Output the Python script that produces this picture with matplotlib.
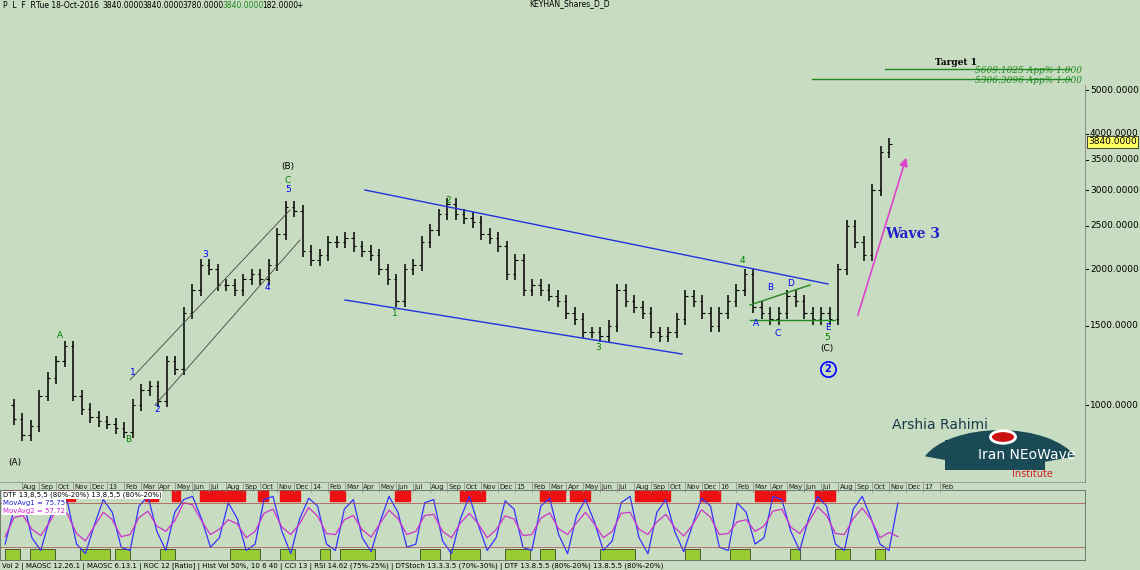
import matplotlib
matplotlib.use("Agg")
import matplotlib.pyplot as plt
import numpy as np
from matplotlib.patches import Circle, FancyArrowPatch, Rectangle, Wedge

W, H = 1140, 570
BG = "#c7dcc0"

# price (half-month steps starting Jul 2012)
closes = [1000, 930, 860, 900, 1050, 1150, 1250, 1350, 1050, 980, 940, 920, 910, 890, 870,
          1000, 1080, 1100, 1020, 1250, 1200, 1600, 1800, 2050, 2000, 1850, 1850, 1800, 1900,
          1950, 1900, 2050, 2400, 2750, 2700, 2200, 2100, 2150, 2300, 2300, 2350, 2250, 2200,
          2150, 2000, 1900, 1700, 2000, 2050, 2300, 2450, 2650, 2800, 2650, 2600, 2550, 2400,
          2350, 2250, 1950, 2100, 1800, 1850, 1800, 1750, 1700, 1600, 1550, 1450, 1450, 1420,
          1500, 1800, 1700, 1650, 1600, 1450, 1420, 1450, 1550, 1750, 1700, 1600, 1500, 1600,
          1700, 1800, 1950, 1650, 1600, 1550, 1600, 1750, 1700, 1600, 1550, 1600, 1550, 2000,
          2500, 2300, 2150, 3000, 3650, 3800]
osc_blue = [20, 75, 90, 30, 10, 60, 95, 85, 20, 5, 50, 90, 70, 15, 10, 80, 95, 40, 10, 70,
            90, 95, 60, 15, 30, 85, 60, 10, 20, 90, 95, 40, 5, 60, 92, 80, 20, 10, 75, 90, 30,
            8, 55, 95, 70, 15, 20, 85, 90, 25, 5, 60, 95, 50, 10, 30, 88, 75, 15, 10, 80, 92,
            35, 5, 65, 90, 55, 10, 25, 85, 95, 30, 5, 70, 90, 40, 8, 50, 92, 80, 15, 10, 85,
            70, 20, 30, 95, 90, 40, 10, 60, 95, 80, 20, 10, 75, 95, 60, 20, 10, 85]
red_boxes = [(5, 20), (60, 75), (145, 158), (172, 180), (200, 245), (258, 268), (280, 300),
             (330, 345), (395, 410), (460, 485), (540, 565), (570, 590), (635, 670), (700, 720),
             (755, 785), (815, 835)]
green_boxes = [(5, 20), (30, 55), (80, 110), (115, 130), (160, 175), (230, 260), (280, 295),
               (320, 330), (340, 375), (420, 440), (450, 480), (505, 530), (540, 555), (600, 635),
               (685, 700), (730, 750), (790, 800), (835, 850), (875, 885)]
price_ticks = [1000, 1500, 2000, 2500, 3000, 3500, 4000, 5000]
month_names = ["Jul", "Aug", "Sep", "Oct", "Nov", "Dec", "", "Feb", "Mar", "Apr", "May", "Jun"]
header = [("P  L  F  R", "black"), ("Tue 18-Oct-2016", "black"), ("3840.0000", "black"),
          ("3840.0000", "black"), ("3780.0000", "black"), ("3840.0000", "#228822"),
          ("182.0000", "black"), ("+", "black")]
header_x = [3, 36, 102, 142, 182, 222, 262, 296]

fig = plt.figure(figsize=(W / 100, H / 100), dpi=100, facecolor=BG)

def fx(px): return px / W
def fy(py): return 1 - py / H

ax = fig.add_axes([0, fy(482), fx(1085), fy(10) - fy(482)], facecolor=BG)
ax.set_yscale("log")
ax.set_ylim(675, 7525)
ax.set_xlim(-0.3, 63.5)
t = np.arange(len(closes)) * 0.5
for i in range(1, len(closes)):
    lo, hi = min(closes[i - 1], closes[i]), max(closes[i - 1], closes[i])
    ax.vlines(t[i], lo * 0.97, hi * 1.03, color="black", lw=1.1)
    ax.hlines(closes[i], t[i], t[i] + 0.15, color="black", lw=0.8)
    ax.hlines(closes[i - 1], t[i] - 0.15, t[i], color="black", lw=0.8)
for s in ax.spines.values():
    s.set_visible(False)
ax.set_xticks([]); ax.set_yticks([])
ax.yaxis.set_minor_locator(matplotlib.ticker.NullLocator())

def P(px, py):
    inv = ax.transData.inverted()
    return inv.transform((px, H - py))

def lab(px, py, s, c, size=7, ha="center", **kw):
    x, y = P(px, py)
    ax.text(x, y, s, color=c, fontsize=size, ha=ha, va="center", **kw)

def line(p1, p2, c, lw=1):
    a, b = P(*p1), P(*p2)
    ax.plot([a[0], b[0]], [a[1], b[1]], color=c, lw=lw)

fig.canvas.draw()
line((365, 190), (828, 284), "#2233dd")
line((345, 300), (682, 354), "#2233dd")
line((130, 380), (290, 210), "#444444", 0.6)
line((155, 405), (300, 240), "#444444", 0.6)
line((750, 320), (835, 320), "#228822")
line((750, 305), (810, 285), "#228822")
line((885, 69), (1070, 69), "#228822")
line((812, 79), (1070, 79), "#228822")
labels = [((15, 462), "(A)", "black"), ((60, 335), "A", "green"), ((128, 440), "B", "green"),
          ((133, 373), "1", "blue"), ((157, 410), "2", "blue"), ((205, 255), "3", "blue"),
          ((267, 288), "4", "blue"), ((288, 190), "5", "blue"), ((288, 181), "C", "green"),
          ((288, 167), "(B)", "black"), ((395, 313), "1", "green"), ((448, 201), "2", "green"),
          ((598, 348), "3", "green"), ((742, 261), "4", "green"), ((827, 338), "5", "green"),
          ((827, 349), "(C)", "black"), ((756, 324), "A", "blue"), ((770, 288), "B", "blue"),
          ((778, 334), "C", "blue"), ((791, 283), "D", "blue"), ((828, 327), "E", "blue")]
for (p, s, c) in labels:
    lab(p[0], p[1], s, c, 6.5)
lab(828, 369, "2", "blue", 7, weight="bold")
cx, cy = P(828, 369)
ax.plot(cx, cy, "o", ms=11, mfc="none", mec="blue", mew=1.2)
lab(913, 234, "Wave 3", "#2222cc", 10, weight="bold", family="DejaVu Serif")
a1, a2 = P(857, 318), P(907, 155)
ax.add_patch(FancyArrowPatch(a1, a2, arrowstyle="-|>", mutation_scale=12, color="#dd44cc", lw=1.2))
lab(935, 63, "Target 1", "black", 6.5, ha="left", weight="bold", family="DejaVu Serif")
lab(975, 71, "5609.1025 App% 1.000", "#228822", 6.5, ha="left", style="italic", family="DejaVu Serif")
lab(975, 81, "5306.3096 App% 1.000", "#228822", 6.5, ha="left", style="italic", family="DejaVu Serif")

# right price axis
for p in price_ticks:
    y = ax.transData.transform((0, p))[1]
    fig.text(fx(1090), y / H, f"{p:.4f}", fontsize=6.5, va="center")
    fig.add_artist(plt.Line2D([fx(1085), fx(1088)], [y / H, y / H], color="black", lw=0.7))
fig.add_artist(plt.Line2D([fx(1085), fx(1085)], [fy(85), fy(482)], color="#888", lw=0.7))
y = ax.transData.transform((0, 3840))[1]
fig.text(fx(1088), y / H, "3840.0000", fontsize=6.5, va="center",
         bbox=dict(fc="#ffff66", ec="black", pad=1, lw=0.5))

# month axis
for k in range(1, 56):
    name = month_names[k % 12]
    if name == "":
        name = str(13 + (k - 6) // 12)
    x = ax.transData.transform((k, 0))[0] / W
    fig.text(x + 0.001, fy(487), name, fontsize=5, ha="left", va="center", color="#222")
    fig.add_artist(plt.Line2D([x, x], [fy(482), fy(492)], color="#888", lw=0.5))
fig.add_artist(plt.Line2D([0, fx(1085)], [fy(482), fy(482)], color="#888", lw=0.5))

# oscillator panel
ax2 = fig.add_axes([0, fy(560), fx(1085), fy(490) - fy(560)], facecolor=BG)
ax2.set_xlim(-0.3, 63.5); ax2.set_ylim(-5, 105)
for s in ax2.spines.values():
    s.set_color("#666"); s.set_lw(0.6)
ax2.set_xticks([]); ax2.set_yticks([])
m2 = lambda px: (px - 5) / 17
for a, b in red_boxes:
    ax2.add_patch(Rectangle((m2(a), 88), m2(b) - m2(a), 17, color="#ee1111"))
for a, b in green_boxes:
    ax2.add_patch(Rectangle((m2(a), -5), m2(b) - m2(a), 17, fc="#99cc33", ec="black", lw=0.4))
tb = np.linspace(0, 52.5, len(osc_blue))
ax2.plot(tb, osc_blue, color="#3333ff", lw=0.9)
mag = np.convolve(osc_blue, np.ones(3) / 3, mode="same")
ax2.plot(tb, mag, color="#cc33cc", lw=0.9)
ax2.axhline(85, color="#aa4444", lw=0.5)
ax2.axhline(15, color="#aa4444", lw=0.5)
fig.text(fx(3), fy(495), "DTF 13,8,5,5 (80%-20%) 13,8,5,5 (80%-20%)", fontsize=5, va="center",
         bbox=dict(fc="white", ec="none", pad=0.5))
fig.text(fx(3), fy(503), "MovAvg1 = 75.75", fontsize=5, color="#2222cc", va="center",
         bbox=dict(fc="white", ec="none", pad=0.5))
fig.text(fx(3), fy(511), "MovAvg2 = 57.72", fontsize=5, color="#cc22cc", va="center",
         bbox=dict(fc="white", ec="none", pad=0.5))
fig.text(fx(2), fy(566), "Vol 2 | MAOSC 12.26.1 | MAOSC 6.13.1 | ROC 12 [Ratio] | Hist Vol 50%, 10 6 40 | CCI 13 | RSI 14.62 (75%-25%) | DTStoch 13.3.3.5 (70%-30%) | DTF 13.8.5.5 (80%-20%) 13.8.5.5 (80%-20%)",
         fontsize=5, va="center")

# header
for (s, c), hx in zip(header, header_x):
    fig.text(fx(hx), fy(6), s, fontsize=5.5, va="center", color=c)
fig.text(fx(570), fy(4), "KEYHAN_Shares_D_D", fontsize=5.5, va="center", ha="center")

# logo
fig.add_artist(Wedge((fx(1000), fy(470)), 0.07, 20, 160, width=0.035, transform=fig.transFigure,
                     fc="#1a4a55", ec="none"))
fig.add_artist(Rectangle((fx(945), fy(470)), fx(100), fy(440) - fy(470), transform=fig.transFigure,
                         fc="#1a4a55", ec="none"))
fig.text(fx(892), fy(425), "Arshia Rahimi", fontsize=10, color="#1a3a4a", va="center")
fig.text(fx(978), fy(455), "Iran NEoWave", fontsize=10, color="white", va="center")
fig.text(fx(1012), fy(474), "Institute", fontsize=7, color="#cc2222", va="center")
fig.add_artist(Circle((fx(1003), fy(437)), 0.011, transform=fig.transFigure, fc="#cc1111", ec="white", lw=2))

fig.savefig("out.png", dpi=100, facecolor=BG)
